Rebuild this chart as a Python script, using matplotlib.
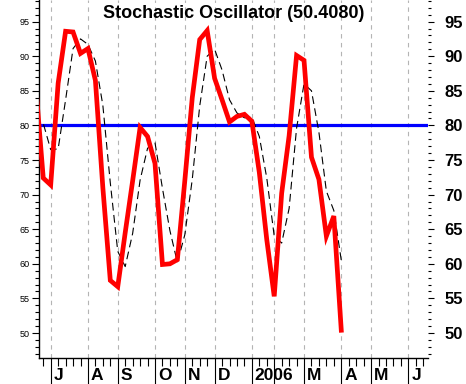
import matplotlib
matplotlib.use('Agg')
import matplotlib.pyplot as plt
import matplotlib.transforms as mtransforms
from matplotlib.ticker import MultipleLocator

plt.rcParams['font.family'] = ['Liberation Sans', 'DejaVu Sans']

# weekly data, week 0 = first week of July 2005
weeks = list(range(-2, 40))
stoch_k = [85.7, 72.4, 71.4, 86.1, 93.6, 93.5, 90.4, 91.1, 86.5, 71.0,
           57.6, 56.7, 64.5, 72.0, 79.7, 78.4, 74.5, 59.9, 60.0, 60.6,
           72.0, 84.0, 92.4, 93.7, 86.8, 83.7, 80.5, 81.3, 81.6, 80.6,
           73.2, 63.5, 55.3, 70.2, 78.5, 90.1, 89.4, 75.4, 72.2, 64.0,
           66.9, 50.4]
stoch_d = [79.1, 80.3, 76.5, 76.6, 83.7, 91.1, 92.5, 91.7, 89.3, 82.9,
           71.7, 61.8, 59.6, 64.4, 72.1, 76.7, 77.5, 70.9, 64.8, 60.2,
           64.2, 72.2, 82.8, 90.0, 91.0, 88.0, 83.7, 81.8, 81.1, 81.2,
           78.4, 72.4, 64.0, 63.0, 68.0, 79.6, 86.0, 85.0, 79.0, 70.5,
           67.7, 60.5]
level = 80
last_value = '50.4080'

month_weeks = [0, 5, 9, 14, 18, 22, 27, 30, 34, 39, 43, 48]
month_labels = ['J', 'A', 'S', 'O', 'N', 'D', '2006', '', 'M', 'A', 'M', 'J']
y_labels = [50, 55, 60, 65, 70, 75, 80, 85, 90, 95]

fig = plt.figure(figsize=(4.66, 3.84), dpi=100)
ax = fig.add_axes([39/466, 26/384, 389/466, 358/384])
ax.set_xlim(-1.57, 50.64)
ax.set_ylim(46.39, 98.12)

# month grid
for w in month_weeks:
    ax.axvline(w, color='#b4b4b4', lw=0.8, ls=(0, (4, 4)), zorder=1)

ax.axhline(level, color='#0000ff', lw=2.3, zorder=2)
ax.plot(weeks, stoch_d, color='black', lw=0.8, ls=(0, (7, 4)), zorder=3)
ax.plot(weeks, stoch_k, color='#ff0000', lw=3.4, zorder=4, solid_joinstyle='miter')

ax.text(0.5, 1 - 13/358, 'Stochastic Oscillator (' + last_value + ')',
        transform=ax.transAxes, ha='center', va='center',
        fontsize=13, fontweight='bold')

ax.spines['top'].set_visible(False)
ax.spines['right'].set_visible(False)
ax.spines['left'].set_linewidth(1)
ax.spines['bottom'].set_linewidth(1)

# left axis: small plain labels
ax.set_yticks(y_labels)
ax.set_yticklabels([str(v) for v in y_labels], fontsize=6.5)
ax.yaxis.set_minor_locator(MultipleLocator(1))
ax.tick_params(axis='y', which='major', length=5, width=0.8, pad=2)
ax.tick_params(axis='y', which='minor', length=3, width=0.8)

# right axis: big bold labels
ax2 = ax.twinx()
ax2.set_ylim(ax.get_ylim())
for s in ax2.spines.values():
    s.set_visible(False)
ax2.set_yticks(y_labels)
ax2.set_yticklabels([str(v) for v in y_labels], fontsize=12, fontweight='bold')
ax2.yaxis.set_minor_locator(MultipleLocator(1))
ax2.tick_params(axis='y', which='major', length=4, width=0.8, pad=8)
ax2.tick_params(axis='y', which='minor', length=2.5, width=0.8)

# bottom axis: weekly ticks, long month ticks, labels to the right
ax.set_xticks(month_weeks)
ax.set_xticklabels(month_labels, fontsize=12.5, fontweight='bold')
ax.set_xticks(list(range(-1, 51)), minor=True)
ax.tick_params(axis='x', which='major', length=26, width=0.8, pad=-19)
ax.tick_params(axis='x', which='minor', length=6, width=0.8)
shift = mtransforms.ScaledTranslation(3/100, 0, fig.dpi_scale_trans)
for lab in ax.get_xticklabels():
    lab.set_horizontalalignment('left')
    lab.set_transform(lab.get_transform() + shift)

fig.savefig('out.png', dpi=100)
